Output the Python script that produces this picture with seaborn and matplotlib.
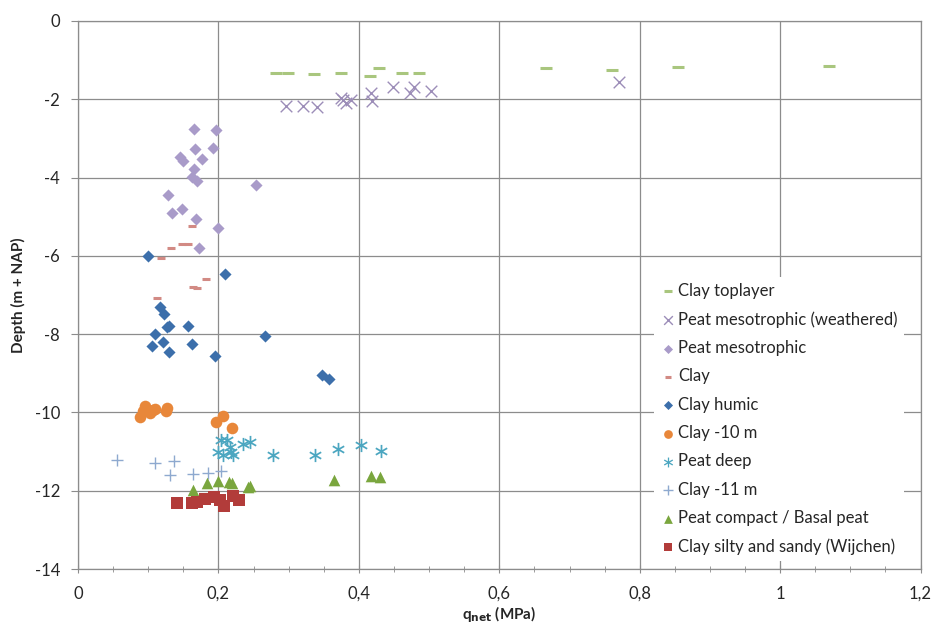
import pandas as pd
import numpy as np
import seaborn as sns
import matplotlib.pyplot as plt
from matplotlib.ticker import MultipleLocator, FuncFormatter

# values: q_net (MPa), depth (m + NAP)
clay_top_q = [0.282, 0.299, 0.336, 0.374, 0.416, 0.428, 0.461, 0.485, 0.666, 0.760, 0.854, 1.069]
clay_top_d = [-1.32, -1.32, -1.35, -1.34, -1.41, -1.21, -1.34, -1.32, -1.19, -1.25, -1.17, -1.15]

peat_w_q = [0.296, 0.321, 0.340, 0.374, 0.378, 0.381, 0.389, 0.417, 0.419, 0.448, 0.473, 0.478, 0.502, 0.771]
peat_w_d = [-2.17, -2.17, -2.21, -1.96, -2.02, -2.10, -2.02, -1.85, -2.04, -1.70, -1.85, -1.70, -1.79, -1.57]

peat_meso_q = [0.165, 0.196, 0.166, 0.192, 0.145, 0.150, 0.176, 0.165, 0.162, 0.169, 0.253,
               0.128, 0.148, 0.134, 0.168, 0.199, 0.172]
peat_meso_d = [-2.76, -2.78, -3.28, -3.24, -3.47, -3.57, -3.53, -3.79, -3.98, -4.08, -4.19,
               -4.45, -4.80, -4.91, -5.06, -5.28, -5.79]

clay_q = [0.162, 0.133, 0.148, 0.157, 0.118, 0.182, 0.164, 0.169, 0.113]
clay_d = [-5.23, -5.81, -5.69, -5.71, -6.05, -6.59, -6.79, -6.83, -7.09]

clay_humic_q = [0.099, 0.209, 0.117, 0.123, 0.127, 0.130, 0.156, 0.110, 0.266, 0.121, 0.106,
                0.162, 0.129, 0.195, 0.347, 0.358]
clay_humic_d = [-6.00, -6.46, -7.32, -7.49, -7.81, -7.79, -7.79, -8.00, -8.04, -8.21, -8.30,
                -8.24, -8.46, -8.55, -9.04, -9.15]

clay10_q = [0.088, 0.092, 0.096, 0.102, 0.107, 0.110, 0.125, 0.127, 0.196, 0.207, 0.219]
clay10_d = [-10.11, -9.96, -9.84, -10.02, -9.94, -9.90, -9.96, -9.88, -10.24, -10.09, -10.41]

peat_deep_q = [0.204, 0.212, 0.200, 0.207, 0.216, 0.221, 0.218, 0.235, 0.245, 0.277, 0.337,
               0.370, 0.403, 0.431]
peat_deep_d = [-10.71, -10.71, -11.00, -11.09, -10.88, -11.09, -11.00, -10.81, -10.75, -11.09,
               -11.09, -10.94, -10.83, -10.99]

clay11_q = [0.056, 0.110, 0.136, 0.131, 0.164, 0.185, 0.204]
clay11_d = [-11.22, -11.28, -11.23, -11.60, -11.57, -11.56, -11.49]

peat_compact_q = [0.163, 0.183, 0.199, 0.215, 0.219, 0.242, 0.245, 0.364, 0.417, 0.430]
peat_compact_d = [-11.98, -11.81, -11.75, -11.77, -11.81, -11.91, -11.88, -11.73, -11.62, -11.66]

clay_silty_q = [0.141, 0.162, 0.169, 0.181, 0.193, 0.202, 0.208, 0.221, 0.229]
clay_silty_d = [-12.31, -12.31, -12.28, -12.22, -12.17, -12.24, -12.39, -12.14, -12.24]

series = [
    ('Clay toplayer', clay_top_q, clay_top_d, '_', '#A9C67E', 70),
    ('Peat mesotrophic (weathered)', peat_w_q, peat_w_d, 'x', '#9C8DB8', 70),
    ('Peat mesotrophic', peat_meso_q, peat_meso_d, 'D', '#A99BC9', 38),
    ('Clay', clay_q, clay_d, '_', '#D28A84', 30),
    ('Clay humic', clay_humic_q, clay_humic_d, 'D', '#3C6FAB', 38),
    ('Clay -10 m', clay10_q, clay10_d, 'o', '#E8873A', 70),
    ('Peat deep', peat_deep_q, peat_deep_d, '$\u2217$', '#4BA6C0', 90),
    ('Clay -11 m', clay11_q, clay11_d, '+', '#8EA9CF', 80),
    ('Peat compact / Basal peat', peat_compact_q, peat_compact_d, '^', '#7AA63E', 70),
    ('Clay silty and sandy (Wijchen)', clay_silty_q, clay_silty_d, 's', '#B23C3A', 70),
]

sns.set_style('white')
plt.rcParams['font.family'] = ['Lato', 'DejaVu Sans']
plt.rcParams['axes.unicode_minus'] = False

f = plt.figure(figsize=(9.52, 6.3), dpi=100)
ax = f.add_axes([0.082, 0.0968, 0.885, 0.87])

for name, q, d, marker, color, size in series:
    df = pd.DataFrame({'q_net (MPa)': q, 'Depth (m + NAP)': d})
    lw = 2.2 if marker == '_' else 1.0
    sns.scatterplot(ax=ax, data=df, x='q_net (MPa)', y='Depth (m + NAP)', marker=marker,
                    color=color, s=size, linewidth=lw if marker in ('_', 'x', '+') else 0,
                    label=name, zorder=3)

ax.set_xlim(0, 1.2)
ax.set_ylim(-14, 0)
ax.xaxis.set_major_locator(MultipleLocator(0.2))
ax.xaxis.set_minor_locator(MultipleLocator(0.05))
ax.yaxis.set_major_locator(MultipleLocator(2))
ax.xaxis.set_major_formatter(FuncFormatter(lambda v, p: ('%g' % round(v, 2)).replace('.', ',')))
ax.yaxis.set_major_formatter(FuncFormatter(lambda v, p: '%g' % v))
ax.grid(True, which='major', color='#8C8C8C', linewidth=0.9)
ax.set_axisbelow(True)
for s in ax.spines.values():
    s.set_color('#8C8C8C')
    s.set_linewidth(0.9)
ax.tick_params(axis='x', which='both', direction='inout', length=6, color='#8C8C8C',
               labelsize=12, pad=9, bottom=True)
ax.tick_params(axis='x', which='minor', length=5)
ax.tick_params(axis='y', which='major', direction='out', length=5, color='#8C8C8C',
               labelsize=12, pad=8, left=True)
ax.set_xlabel('q$_{\\mathbf{net}}$ (MPa)', fontsize=11, fontweight='bold', labelpad=2)
ax.set_ylabel('Depth (m + NAP)', fontsize=11, fontweight='bold', labelpad=6)

leg = ax.legend(loc='lower right', bbox_to_anchor=(0.99, 0.0), fontsize=12,
                frameon=True, framealpha=1, facecolor='white', edgecolor='none',
                handletextpad=0.2, handlelength=0.9, labelspacing=0.74, borderpad=0.35,
                markerscale=0.75)
leg.set_zorder(5)

f.savefig('out.png', dpi=100)
